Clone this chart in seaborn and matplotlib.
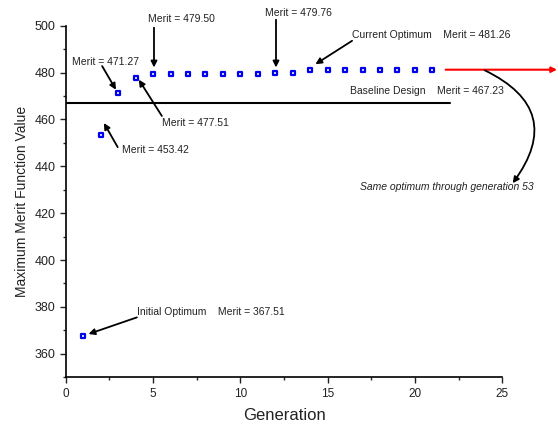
import matplotlib
matplotlib.use("Agg")
import matplotlib.pyplot as plt
import seaborn as sns
import pandas as pd
from matplotlib.ticker import MultipleLocator

# data
generation = list(range(1, 22))
merit = [367.51, 453.42, 471.27, 477.51, 479.50, 479.50, 479.50, 479.50,
         479.50, 479.50, 479.50, 479.76, 479.76, 481.26, 481.26, 481.26,
         481.26, 481.26, 481.26, 481.26, 481.26]
baseline_merit = 467.23
baseline_end = 22
current_optimum = 481.26

df = pd.DataFrame({"Generation": generation, "Merit": merit})

sns.set_style("ticks")
plt.rcParams["font.family"] = ["Liberation Sans", "DejaVu Sans"]

fig = plt.figure(figsize=(5.58, 4.30), dpi=100)
ax = fig.add_axes([0.118, 0.123, 0.782, 0.817])

# baseline design line
ax.plot([0, baseline_end], [baseline_merit, baseline_merit], color="black", lw=1.5)

sns.scatterplot(data=df, x="Generation", y="Merit", ax=ax, marker="s", s=11,
                facecolor="white", edgecolor="#0000ee", linewidth=1.6, zorder=3)

ax.set_xlim(0, 25)
ax.set_ylim(350, 500)
ax.xaxis.set_major_locator(MultipleLocator(5))
ax.xaxis.set_minor_locator(MultipleLocator(2.5))
ax.yaxis.set_minor_locator(MultipleLocator(10))
ax.set_yticks([360, 380, 400, 420, 440, 460, 480, 500])
ax.tick_params(which="major", direction="out", length=4, width=1, colors="#222222")
ax.tick_params(axis="x", labelsize=8.5)
ax.tick_params(axis="y", labelsize=9)
ax.tick_params(which="minor", direction="out", length=2.5, width=1)
for s in ["left", "bottom"]:
    ax.spines[s].set_linewidth(1.2)
    ax.spines[s].set_color("black")
sns.despine(ax=ax)
ax.set_xlabel("Generation", fontsize=12, color="#222222", labelpad=6)
ax.set_ylabel("Maximum Merit Function Value", fontsize=10, color="#222222")

# red line showing the optimum carrying on
ax.annotate("", xy=(28.3, current_optimum), xytext=(21.6, current_optimum),
            arrowprops=dict(arrowstyle="-|>", color="red", lw=1.5, mutation_scale=8),
            annotation_clip=False)

arrow = dict(arrowstyle="-|>", color="black", lw=1.3, mutation_scale=9, shrinkA=0, shrinkB=0)
fs = 7.5
tc = "#222222"

ax.annotate("", xy=(2.87, 472.7), xytext=(2.08, 482.8), arrowprops=arrow)
ax.text(2.3, 484.4, "Merit = 471.27", fontsize=fs, color=tc, ha="center", va="center")
ax.annotate("", xy=(4.18, 477.0), xytext=(5.5, 461.5), arrowprops=arrow)
ax.text(7.4, 458.6, "Merit = 477.51", fontsize=fs, color=tc, ha="center", va="center")
ax.annotate("", xy=(5.05, 482.2), xytext=(5.05, 499.2), arrowprops=arrow)
ax.text(6.6, 502.8, "Merit = 479.50", fontsize=fs, color=tc, ha="center", va="center")
ax.annotate("", xy=(12.04, 482.2), xytext=(12.04, 502.6), arrowprops=arrow)
ax.text(13.3, 505.6, "Merit = 479.76", fontsize=fs, color=tc, ha="center", va="center")
ax.annotate("", xy=(14.3, 483.6), xytext=(16.4, 493.6), arrowprops=arrow)
ax.text(16.4, 496.2, "Current Optimum    Merit = 481.26", fontsize=fs, color=tc,
        ha="left", va="center")
ax.text(16.3, 472.2, "Baseline Design    Merit = 467.23", fontsize=fs, color=tc,
        ha="left", va="center")
ax.annotate("", xy=(2.18, 458.5), xytext=(2.97, 448.2), arrowprops=arrow)
ax.text(3.2, 446.8, "Merit = 453.42", fontsize=fs, color=tc, ha="left", va="center")
ax.annotate("", xy=(1.3, 368.4), xytext=(4.07, 375.5), arrowprops=arrow)
ax.text(4.07, 378.0, "Initial Optimum    Merit = 367.51", fontsize=fs, color=tc,
        ha="left", va="center")

# curved arrow to the note
ax.annotate("", xy=(25.6, 432.8), xytext=(24.0, 481.0),
            arrowprops=dict(arrowstyle="-|>", color="black", lw=1.3, mutation_scale=9,
                            shrinkA=0, shrinkB=0, connectionstyle="arc3,rad=-0.6"),
            annotation_clip=False)
ax.text(21.8, 431.0, "Same optimum through generation 53", fontsize=fs, color=tc,
        style="italic", ha="center", va="center")

fig.savefig("out.png", dpi=100)
